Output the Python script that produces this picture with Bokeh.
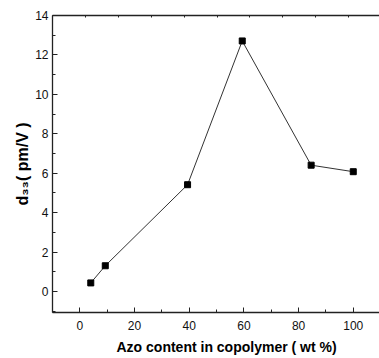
from bokeh.plotting import figure
from bokeh.models import (Range1d, SingleIntervalTicker, LinearAxis, FixedTicker,
                          Title, CustomJSTickFormatter)
from bokeh.embed import file_html
from bokeh.resources import INLINE

# data
azo_wt = [4.0, 9.3, 39.4, 59.4, 84.6, 100.0]
d33 = [0.44, 1.31, 5.42, 12.71, 6.41, 6.08]
top_ticks = [2.2, 14.2, 26.2, 38.2, 50.2, 62.2, 74.2, 86.2, 98.2]

X0, X1 = -10, 109.6
Y0, Y1 = -1.06, 14

p = figure(width=379, height=358, output_backend="svg", toolbar_location=None,
           x_range=Range1d(X0, X1), y_range=Range1d(Y0, Y1),
           min_border_left=52, min_border_right=0, min_border_top=15,
           min_border_bottom=45)
p.outline_line_color = None
p.grid.visible = False
p.background_fill_color = "white"
p.border_fill_color = "white"

AX = "#222222"
FONT = "Liberation Sans"

xa = p.xaxis[0]
xa.ticker = SingleIntervalTicker(interval=20, num_minor_ticks=2)
ya = p.yaxis[0]
ya.ticker = SingleIntervalTicker(interval=2, num_minor_ticks=2)
for ax in (xa, ya):
    ax.axis_line_color = AX
    ax.axis_line_width = 1.3
    ax.major_tick_line_color = AX
    ax.minor_tick_line_color = AX
    ax.major_tick_in = 5
    ax.major_tick_out = 0
    ax.minor_tick_in = 3
    ax.minor_tick_out = 0
    ax.major_label_text_font = FONT
    ax.major_label_text_font_size = "12px"
    ax.major_label_text_color = "#111111"
ya.major_label_standoff = 4
xa.major_label_standoff = 8

ya.axis_label = "d\u2083\u2083( pm/V )"
ya.axis_label_text_font = FONT
ya.axis_label_text_font_size = "16px"
ya.axis_label_text_font_style = "bold"
ya.axis_label_text_color = "black"
ya.axis_label_standoff = 1

top = LinearAxis(ticker=FixedTicker(ticks=top_ticks))
top.axis_line_color = AX
top.axis_line_width = 1.3
top.major_tick_line_color = AX
top.major_tick_in = 2
top.major_tick_out = 0
top.minor_tick_line_color = None
top.major_label_text_font_size = "0px"
top.formatter = CustomJSTickFormatter(code="return ''")
p.add_layout(top, "above")

p.line(azo_wt, d33, line_color="#333333", line_width=1)
p.scatter(azo_wt, d33, marker="square", size=6, fill_color="black",
          line_color="black")

xt = Title(text="Azo content in copolymer ( wt %)", align="left", offset=64,
           text_font=FONT, text_font_size="14px", text_font_style="bold",
           text_color="black", standoff=8)
p.add_layout(xt, "below")

open("out.html", "w").write(file_html(p, INLINE))
